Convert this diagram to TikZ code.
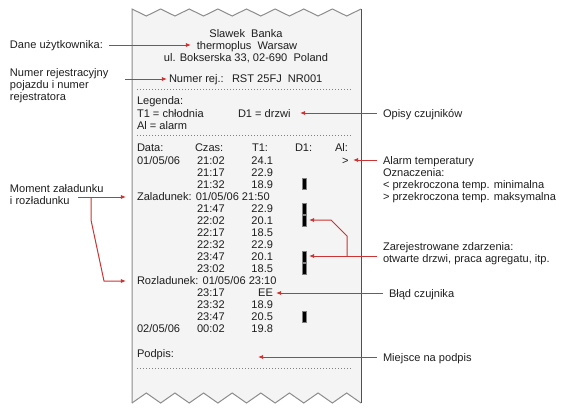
\documentclass[tikz,border=0pt]{standalone}
\usepackage{fontspec}
\setmainfont{Liberation Sans}
\usetikzlibrary{arrows.meta,calc}
\definecolor{paper}{HTML}{F4F4F4}
\definecolor{edge}{HTML}{8C8C8C}
\definecolor{edgedark}{HTML}{505050}
\definecolor{redline}{HTML}{CC3333}
\definecolor{ink}{HTML}{1E1E1E}
\begin{document}
\begin{tikzpicture}[x=0.75pt,y=-0.75pt,
  txt/.style={inner sep=0pt, outer sep=0pt, anchor=base west, text=ink, font=\fontsize{8.3}{10}\selectfont},
  txtc/.style={txt, anchor=base},
  txtr/.style={txt, anchor=base east},
  arr/.style={draw=redline, line width=0.75pt, -{Latex[length=3.8pt,width=3.2pt]}},
  dots/.style={draw=gray, line width=0.75pt, dash pattern=on 0.75pt off 1.5pt},
  barbox/.style={fill=black, draw=gray, line width=0.4pt}]
\useasboundingbox (0,0) rectangle (565,414);
% paper
\fill[paper] (132,9) \foreach \k in {0,...,7} { -- ({132+28.625*\k+14.3125},16) -- ({132+28.625*(\k+1)},9) }
  -- (361,403) \foreach \k in {0,...,7} { -- ({361-28.625*\k-14.3125},393) -- ({361-28.625*(\k+1)},403) } -- cycle;
\draw[edge, line width=0.75pt, line join=miter] (132,403) -- (132,9) \foreach \k in {0,...,7} { -- ({132+28.625*\k+14.3125},16) -- ({132+28.625*(\k+1)},9) };
\draw[edge, line width=0.75pt] (361,403) \foreach \k in {0,...,7} { -- ({361-28.625*\k-14.3125},393) -- ({361-28.625*(\k+1)},403) };
\draw[edgedark, line width=0.75pt] (361,9) -- (361,403);

% header
\node[txtc] (name) at (246,37) {Slawek\ \ Banka};
\node[txtc] (therm) at (247,49) {thermoplus\ \ Warsaw};
\node[txtc] (addr) at (246,61) {ul. Bokserska 33, 02-690\ \ Poland};
\node[txt] (nrlab) at (169,82) {Numer rej.:};
\node[txt] (nrval) at (232,82) {RST 25FJ\ \ NR001};
\draw[dots] (137,89) -- (352,89);
\node[txt] (leg) at (137,104) {Legenda:};
\node[txt] (legT) at (137,117) {T1 = chłodnia};
\node[txt] (legD) at (238,117) {D1 = drzwi};
\node[txt] (legA) at (137,129) {Al = alarm};
\draw[dots] (137,135) -- (352,135);

% table header
\node[txt] (hData) at (137,151) {Data:};
\node[txt] (hCzas) at (195,151) {Czas:};
\node[txt] (hT) at (252,151) {T1:};
\node[txt] (hD) at (295,151) {D1:};
\node[txt] (hA) at (335,151) {Al:};

% rows
\foreach \i/\t/\v in {0/21:02/24.1,1/21:17/22.9,2/21:32/18.9,4/21:47/22.9,5/22:02/20.1,6/22:17/18.5,7/22:32/22.9,8/23:47/20.1,9/23:02/18.5,11/23:17/EE,12/23:32/18.9,13/23:47/20.5,14/00:02/19.8}{
  \node[txt] (t\i) at (197,{164+12.07*\i}) {\t};
  \node[txtr] (v\i) at (273,{164+12.07*\i}) {\v};
}
\node[txt] (d0) at (137,164) {01/05/06};
\node[txt] (d14) at (137,{164+12.07*14}) {02/05/06};
\node[txt] (alarm0) at (342,164) {>};
\node[txt] (zal) at (137,{164+12.07*3}) {Zaladunek: 01/05/06 21:50};
\node[txt] (rozl) at (137,{164+12.07*10}) {Rozladunek: 01/05/06 23:10};
\foreach \i in {2,4,5,8,9,13}{
  \draw[barbox] (302,{164+12.07*\i-9.5}) rectangle (306,{164+12.07*\i+1.5});
}
\node[txt] (podpis) at (137,357) {Podpis:};
\draw[dots] (137,368) -- (352,368);

% left labels
\node[txt] (dane) at (10,48) {Dane użytkownika:};
\node[txt] (nrj1) at (10,76) {Numer rejestracyjny};
\node[txt] (nrj2) at (10,88) {pojazdu i numer};
\node[txt] (nrj3) at (10,100) {rejestratora};
\node[txt] (mom1) at (10,192) {Moment załadunku};
\node[txt] (mom2) at (10,204) {i rozładunku};

% right labels
\node[txt] (opisy) at (383,117) {Opisy czujników};
\node[txt] (al1) at (383,164) {Alarm temperatury};
\node[txt] (al2) at (383,176) {Oznaczenia:};
\node[txt] (al3) at (383,188) {< przekroczona temp. minimalna};
\node[txt] (al4) at (383,200) {> przekroczona temp. maksymalna};
\node[txt] (zar1) at (383,250) {Zarejestrowane zdarzenia:};
\node[txt] (zar2) at (383,262) {otwarte drzwi, praca agregatu, itp.};
\node[txt] (blad) at (389,297) {Błąd czujnika};
\node[txt] (miej) at (383,361) {Miejsce na podpis};

% connector coordinates
\coordinate (daneS) at (109,45);   \coordinate (daneT) at (191,45);
\coordinate (nrS) at (125,79);     \coordinate (nrT) at (167,79);
\coordinate (momS) at (78,197);    \coordinate (momT1) at (126,197);
\coordinate (momJ) at (91,197);    \coordinate (momT2) at (126,281);
\coordinate (opS) at (377,113);    \coordinate (opT) at (300,113);
\coordinate (alS) at (377,160);    \coordinate (alT) at (353,160);
\coordinate (zarS) at (377,256);   \coordinate (zarT1) at (309,256);
\coordinate (zarJ) at (347,256);   \coordinate (zarT2) at (309,220);
\coordinate (blS) at (383,293);    \coordinate (blT) at (276,293);
\coordinate (miS) at (377,357);    \coordinate (miT) at (258,357);

\draw[arr] (daneS) -- (daneT);
\draw[arr] (nrS) -- (nrT);
\draw[arr] (momS) -- (momT1);
\draw[arr] (momJ) -- ++(0,23) -- (104,281) -- (momT2);
\draw[arr] (opS) -- (opT);
\draw[arr] (alS) -- (alT);
\draw[arr] (zarS) -- (zarT1);
\draw[arr] (zarJ) -- ++(0,-20) -- (331,220) -- (zarT2);
\draw[arr] (blS) -- (blT);
\draw[arr] (miS) -- (miT);
\end{tikzpicture}
\end{document}
